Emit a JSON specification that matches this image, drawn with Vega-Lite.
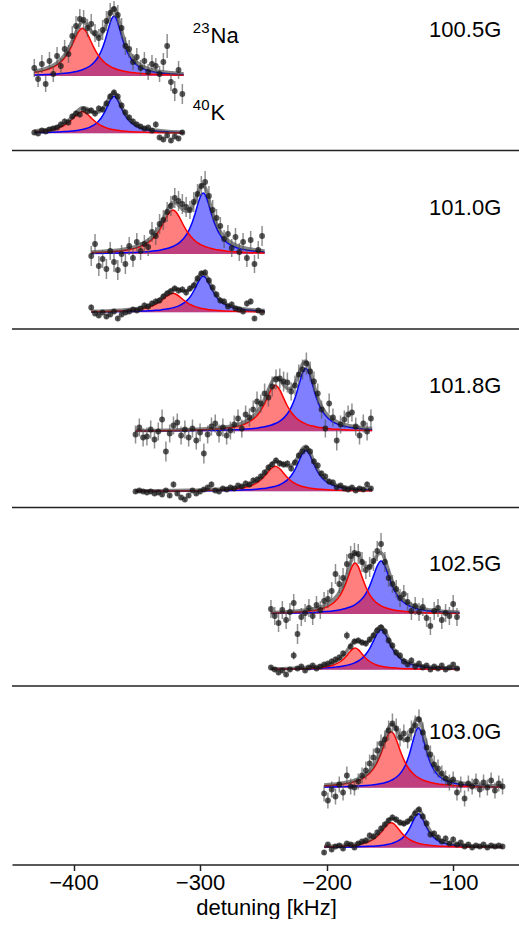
{
  "$schema": "https://vega.github.io/schema/vega-lite/v6.json",
  "width": 508,
  "height": 864.5,
  "padding": {"left": 11, "top": 0, "right": 0, "bottom": 0},
  "config": {
    "view": {"stroke": null},
    "font": "Liberation Sans",
    "axisX": {
      "grid": false, "labelFontSize": 22, "titleFontSize": 22, "titleFontWeight": "normal",
      "labelColor": "#000", "titleColor": "#000", "domainColor": "#222", "domainWidth": 1.5,
      "tickColor": "#222", "tickWidth": 1.5, "tickSize": 6, "labelPadding": 2, "titlePadding": 4,
      "labelFlush": false, "labelFont": "Liberation Sans", "titleFont": "Liberation Sans"
    }
  },
  "datasets": {
    "seps": [{"y": 178.5}, {"y": 357}, {"y": 535.5}, {"y": 714}],
    "fields": [
      {"x": -62, "y": 827.5, "t": "100.5G"},
      {"x": -62, "y": 649.5, "t": "101.0G"},
      {"x": -62, "y": 471.5, "t": "101.8G"},
      {"x": -62, "y": 293.2, "t": "102.5G"},
      {"x": -62, "y": 125.2, "t": "103.0G"}
    ],
    "species": [
      {"x": -292.1, "y": 821.5, "t": "Na", "ys": 831.5, "m": "23"},
      {"x": -292.1, "y": 744.5, "t": "K", "ys": 754.5, "m": "40"}
    ],
    "fit": [
      {"s":"1N","x":-431,"base":788.5,"r":792.2,"b":789.6,"t":793.3},
      {"s":"1N","x":-421,"base":788.5,"r":794.9,"b":790.0,"t":796.4},
      {"s":"1N","x":-413,"base":788.5,"r":799.6,"b":790.6,"t":801.6},
      {"s":"1N","x":-407,"base":788.5,"r":806.7,"b":791.2,"t":809.4},
      {"s":"1N","x":-403,"base":788.5,"r":814.6,"b":791.8,"t":818.0},
      {"s":"1N","x":-399,"base":788.5,"r":825.3,"b":792.7,"t":829.4},
      {"s":"1N","x":-396,"base":788.5,"r":832.9,"b":793.6,"t":838.0},
      {"s":"1N","x":-393,"base":788.5,"r":836.2,"b":794.7,"t":842.4},
      {"s":"1N","x":-390,"base":788.5,"r":832.9,"b":796.3,"t":840.7},
      {"s":"1N","x":-387,"base":788.5,"r":825.3,"b":798.5,"t":835.3},
      {"s":"1N","x":-384,"base":788.5,"r":817.1,"b":801.7,"t":830.3},
      {"s":"1N","x":-381,"base":788.5,"r":810.3,"b":806.5,"t":828.2},
      {"s":"1N","x":-378,"base":788.5,"r":805.2,"b":813.7,"t":830.3},
      {"s":"1N","x":-375,"base":788.5,"r":801.5,"b":824.3,"t":837.2},
      {"s":"1N","x":-372,"base":788.5,"r":798.8,"b":837.6,"t":847.9},
      {"s":"1N","x":-370,"base":788.5,"r":797.4,"b":845.4,"t":854.2},
      {"s":"1N","x":-368,"base":788.5,"r":796.2,"b":848.5,"t":856.2},
      {"s":"1N","x":-366,"base":788.5,"r":795.3,"b":845.4,"t":852.1},
      {"s":"1N","x":-364,"base":788.5,"r":794.5,"b":837.6,"t":843.6},
      {"s":"1N","x":-361,"base":788.5,"r":793.5,"b":824.3,"t":829.3},
      {"s":"1N","x":-358,"base":788.5,"r":792.8,"b":813.7,"t":818.0},
      {"s":"1N","x":-354,"base":788.5,"r":792.0,"b":804.7,"t":808.2},
      {"s":"1N","x":-349,"base":788.5,"r":791.3,"b":798.5,"t":801.3},
      {"s":"1N","x":-343,"base":788.5,"r":790.7,"b":794.7,"t":796.9},
      {"s":"1N","x":-335,"base":788.5,"r":790.2,"b":792.2,"t":793.9},
      {"s":"1N","x":-325,"base":788.5,"r":789.7,"b":790.8,"t":792.0},
      {"s":"1N","x":-313,"base":788.5,"r":789.4,"b":789.9,"t":790.8},
      {"s":"1K","x":-431,"base":731.2,"r":732.9,"b":731.9,"t":733.5},
      {"s":"1K","x":-421,"base":731.2,"r":734.1,"b":732.1,"t":735.0},
      {"s":"1K","x":-413,"base":731.2,"r":736.2,"b":732.5,"t":737.5},
      {"s":"1K","x":-407,"base":731.2,"r":739.5,"b":732.9,"t":741.2},
      {"s":"1K","x":-403,"base":731.2,"r":743.1,"b":733.3,"t":745.1},
      {"s":"1K","x":-399,"base":731.2,"r":747.9,"b":733.8,"t":750.5},
      {"s":"1K","x":-396,"base":731.2,"r":751.4,"b":734.3,"t":754.5},
      {"s":"1K","x":-393,"base":731.2,"r":752.9,"b":735.0,"t":756.7},
      {"s":"1K","x":-390,"base":731.2,"r":751.4,"b":736.0,"t":756.2},
      {"s":"1K","x":-387,"base":731.2,"r":747.9,"b":737.4,"t":754.1},
      {"s":"1K","x":-384,"base":731.2,"r":744.2,"b":739.3,"t":752.3},
      {"s":"1K","x":-381,"base":731.2,"r":741.1,"b":742.3,"t":752.2},
      {"s":"1K","x":-378,"base":731.2,"r":738.8,"b":746.7,"t":754.3},
      {"s":"1K","x":-375,"base":731.2,"r":737.1,"b":753.3,"t":759.2},
      {"s":"1K","x":-372,"base":731.2,"r":735.9,"b":761.5,"t":766.2},
      {"s":"1K","x":-370,"base":731.2,"r":735.2,"b":766.3,"t":770.3},
      {"s":"1K","x":-368,"base":731.2,"r":734.7,"b":768.2,"t":771.7},
      {"s":"1K","x":-366,"base":731.2,"r":734.3,"b":766.3,"t":769.4},
      {"s":"1K","x":-364,"base":731.2,"r":733.9,"b":761.5,"t":764.2},
      {"s":"1K","x":-361,"base":731.2,"r":733.5,"b":753.3,"t":755.5},
      {"s":"1K","x":-358,"base":731.2,"r":733.2,"b":746.7,"t":748.7},
      {"s":"1K","x":-354,"base":731.2,"r":732.8,"b":741.2,"t":742.8},
      {"s":"1K","x":-349,"base":731.2,"r":732.5,"b":737.4,"t":738.6},
      {"s":"1K","x":-343,"base":731.2,"r":732.2,"b":735.0,"t":736.0},
      {"s":"1K","x":-335,"base":731.2,"r":732.0,"b":733.5,"t":734.3},
      {"s":"1K","x":-325,"base":731.2,"r":731.8,"b":732.6,"t":733.1},
      {"s":"1K","x":-313,"base":731.2,"r":731.6,"b":732.1,"t":732.5},
      {"s":"2N","x":-386,"base":610.5,"r":611.9,"b":611.1,"t":612.5},
      {"s":"2N","x":-374,"base":610.5,"r":612.5,"b":611.3,"t":613.4},
      {"s":"2N","x":-364,"base":610.5,"r":613.5,"b":611.6,"t":614.6},
      {"s":"2N","x":-356,"base":610.5,"r":614.9,"b":611.9,"t":616.3},
      {"s":"2N","x":-349,"base":610.5,"r":617.1,"b":612.3,"t":618.9},
      {"s":"2N","x":-340,"base":610.5,"r":622.8,"b":613.1,"t":625.4},
      {"s":"2N","x":-335,"base":610.5,"r":629.0,"b":613.8,"t":632.3},
      {"s":"2N","x":-331,"base":610.5,"r":636.7,"b":614.6,"t":640.8},
      {"s":"2N","x":-327,"base":610.5,"r":646.3,"b":615.7,"t":651.5},
      {"s":"2N","x":-324,"base":610.5,"r":652.5,"b":616.8,"t":658.8},
      {"s":"2N","x":-321.5,"base":610.5,"r":654.5,"b":618.0,"t":662.0},
      {"s":"2N","x":-319,"base":610.5,"r":652.5,"b":619.6,"t":661.6},
      {"s":"2N","x":-316,"base":610.5,"r":646.3,"b":622.2,"t":658.0},
      {"s":"2N","x":-313,"base":610.5,"r":639.0,"b":625.9,"t":654.3},
      {"s":"2N","x":-310,"base":610.5,"r":632.5,"b":631.3,"t":653.3},
      {"s":"2N","x":-307,"base":610.5,"r":627.5,"b":639.4,"t":656.3},
      {"s":"2N","x":-304,"base":610.5,"r":623.8,"b":650.6,"t":663.9},
      {"s":"2N","x":-301,"base":610.5,"r":621.0,"b":663.5,"t":674.0},
      {"s":"2N","x":-299,"base":610.5,"r":619.6,"b":669.9,"t":679.0},
      {"s":"2N","x":-297.5,"base":610.5,"r":618.7,"b":671.5,"t":679.7},
      {"s":"2N","x":-296,"base":610.5,"r":617.9,"b":669.9,"t":677.3},
      {"s":"2N","x":-294,"base":610.5,"r":617.1,"b":663.5,"t":670.0},
      {"s":"2N","x":-291,"base":610.5,"r":616.0,"b":650.6,"t":656.1},
      {"s":"2N","x":-288,"base":610.5,"r":615.1,"b":639.4,"t":644.0},
      {"s":"2N","x":-285,"base":610.5,"r":614.5,"b":631.3,"t":635.3},
      {"s":"2N","x":-281,"base":610.5,"r":613.8,"b":624.5,"t":627.8},
      {"s":"2N","x":-276,"base":610.5,"r":613.1,"b":619.6,"t":622.2},
      {"s":"2N","x":-270,"base":610.5,"r":612.6,"b":616.4,"t":618.5},
      {"s":"2N","x":-262,"base":610.5,"r":612.1,"b":614.2,"t":615.8},
      {"s":"2N","x":-249,"base":610.5,"r":611.6,"b":612.5,"t":613.6},
      {"s":"2K","x":-386,"base":552.2,"r":552.8,"b":552.6,"t":553.2},
      {"s":"2K","x":-374,"base":552.2,"r":553.1,"b":552.7,"t":553.6},
      {"s":"2K","x":-364,"base":552.2,"r":553.5,"b":552.9,"t":554.2},
      {"s":"2K","x":-356,"base":552.2,"r":554.1,"b":553.0,"t":554.9},
      {"s":"2K","x":-349,"base":552.2,"r":555.0,"b":553.3,"t":556.1},
      {"s":"2K","x":-340,"base":552.2,"r":557.5,"b":553.7,"t":559.0},
      {"s":"2K","x":-335,"base":552.2,"r":560.2,"b":554.2,"t":562.2},
      {"s":"2K","x":-331,"base":552.2,"r":563.5,"b":554.6,"t":565.9},
      {"s":"2K","x":-327,"base":552.2,"r":567.7,"b":555.3,"t":570.7},
      {"s":"2K","x":-324,"base":552.2,"r":570.3,"b":555.9,"t":574.1},
      {"s":"2K","x":-321.5,"base":552.2,"r":571.2,"b":556.6,"t":575.6},
      {"s":"2K","x":-319,"base":552.2,"r":570.3,"b":557.6,"t":575.7},
      {"s":"2K","x":-316,"base":552.2,"r":567.7,"b":559.1,"t":574.6},
      {"s":"2K","x":-313,"base":552.2,"r":564.5,"b":561.3,"t":573.6},
      {"s":"2K","x":-310,"base":552.2,"r":561.7,"b":564.5,"t":574.0},
      {"s":"2K","x":-307,"base":552.2,"r":559.5,"b":569.2,"t":576.6},
      {"s":"2K","x":-304,"base":552.2,"r":557.9,"b":575.9,"t":581.6},
      {"s":"2K","x":-301,"base":552.2,"r":556.8,"b":583.5,"t":588.0},
      {"s":"2K","x":-299,"base":552.2,"r":556.1,"b":587.2,"t":591.2},
      {"s":"2K","x":-297.5,"base":552.2,"r":555.8,"b":588.2,"t":591.8},
      {"s":"2K","x":-296,"base":552.2,"r":555.4,"b":587.2,"t":590.4},
      {"s":"2K","x":-294,"base":552.2,"r":555.0,"b":583.5,"t":586.3},
      {"s":"2K","x":-291,"base":552.2,"r":554.6,"b":575.9,"t":578.2},
      {"s":"2K","x":-288,"base":552.2,"r":554.2,"b":569.2,"t":571.2},
      {"s":"2K","x":-285,"base":552.2,"r":553.9,"b":564.5,"t":566.2},
      {"s":"2K","x":-281,"base":552.2,"r":553.6,"b":560.5,"t":561.9},
      {"s":"2K","x":-276,"base":552.2,"r":553.3,"b":557.6,"t":558.7},
      {"s":"2K","x":-270,"base":552.2,"r":553.1,"b":555.7,"t":556.6},
      {"s":"2K","x":-262,"base":552.2,"r":552.9,"b":554.4,"t":555.1},
      {"s":"2K","x":-249,"base":552.2,"r":552.7,"b":553.4,"t":553.9},
      {"s":"3N","x":-351,"base":433.2,"r":433.6,"b":433.5,"t":433.9},
      {"s":"3N","x":-335,"base":433.2,"r":433.8,"b":433.6,"t":434.1},
      {"s":"3N","x":-320,"base":433.2,"r":434.0,"b":433.7,"t":434.5},
      {"s":"3N","x":-308,"base":433.2,"r":434.3,"b":433.8,"t":434.9},
      {"s":"3N","x":-298,"base":433.2,"r":434.7,"b":434.0,"t":435.4},
      {"s":"3N","x":-290,"base":433.2,"r":435.2,"b":434.1,"t":436.1},
      {"s":"3N","x":-283,"base":433.2,"r":435.9,"b":434.3,"t":437.0},
      {"s":"3N","x":-277,"base":433.2,"r":436.7,"b":434.6,"t":438.1},
      {"s":"3N","x":-272,"base":433.2,"r":437.8,"b":434.8,"t":439.4},
      {"s":"3N","x":-267,"base":433.2,"r":439.4,"b":435.1,"t":441.4},
      {"s":"3N","x":-262,"base":433.2,"r":442.1,"b":435.6,"t":444.4},
      {"s":"3N","x":-258,"base":433.2,"r":445.4,"b":436.0,"t":448.2},
      {"s":"3N","x":-254,"base":433.2,"r":450.5,"b":436.6,"t":454.0},
      {"s":"3N","x":-250,"base":433.2,"r":458.5,"b":437.4,"t":462.7},
      {"s":"3N","x":-247,"base":433.2,"r":466.5,"b":438.3,"t":471.5},
      {"s":"3N","x":-244,"base":433.2,"r":474.6,"b":439.3,"t":480.7},
      {"s":"3N","x":-240.5,"base":433.2,"r":479.2,"b":441.0,"t":487.0},
      {"s":"3N","x":-237,"base":433.2,"r":474.6,"b":443.4,"t":484.8},
      {"s":"3N","x":-234,"base":433.2,"r":466.5,"b":446.4,"t":479.6},
      {"s":"3N","x":-231,"base":433.2,"r":458.5,"b":450.7,"t":476.0},
      {"s":"3N","x":-228,"base":433.2,"r":452.2,"b":457.1,"t":476.2},
      {"s":"3N","x":-225,"base":433.2,"r":447.7,"b":466.5,"t":481.0},
      {"s":"3N","x":-222,"base":433.2,"r":444.4,"b":479.1,"t":490.3},
      {"s":"3N","x":-219,"base":433.2,"r":442.1,"b":491.7,"t":500.5},
      {"s":"3N","x":-216.5,"base":433.2,"r":440.6,"b":496.2,"t":503.6},
      {"s":"3N","x":-214,"base":433.2,"r":439.4,"b":491.7,"t":497.9},
      {"s":"3N","x":-211,"base":433.2,"r":438.4,"b":479.1,"t":484.2},
      {"s":"3N","x":-208,"base":433.2,"r":437.6,"b":466.5,"t":470.9},
      {"s":"3N","x":-205,"base":433.2,"r":436.9,"b":457.1,"t":460.8},
      {"s":"3N","x":-201,"base":433.2,"r":436.2,"b":449.1,"t":452.1},
      {"s":"3N","x":-196,"base":433.2,"r":435.6,"b":443.4,"t":445.8},
      {"s":"3N","x":-190,"base":433.2,"r":435.1,"b":439.7,"t":441.6},
      {"s":"3N","x":-182,"base":433.2,"r":434.6,"b":437.2,"t":438.7},
      {"s":"3N","x":-173,"base":433.2,"r":434.3,"b":435.8,"t":436.9},
      {"s":"3N","x":-164,"base":433.2,"r":434.1,"b":435.0,"t":435.9},
      {"s":"3K","x":-351,"base":373.2,"r":373.4,"b":373.4,"t":373.6},
      {"s":"3K","x":-335,"base":373.2,"r":373.5,"b":373.4,"t":373.7},
      {"s":"3K","x":-320,"base":373.2,"r":373.6,"b":373.5,"t":373.9},
      {"s":"3K","x":-308,"base":373.2,"r":373.8,"b":373.6,"t":374.2},
      {"s":"3K","x":-298,"base":373.2,"r":374.0,"b":373.7,"t":374.5},
      {"s":"3K","x":-290,"base":373.2,"r":374.3,"b":373.8,"t":374.9},
      {"s":"3K","x":-283,"base":373.2,"r":374.6,"b":373.9,"t":375.4},
      {"s":"3K","x":-277,"base":373.2,"r":375.1,"b":374.1,"t":376.0},
      {"s":"3K","x":-272,"base":373.2,"r":375.7,"b":374.3,"t":376.8},
      {"s":"3K","x":-267,"base":373.2,"r":376.6,"b":374.5,"t":377.9},
      {"s":"3K","x":-262,"base":373.2,"r":378.0,"b":374.8,"t":379.6},
      {"s":"3K","x":-258,"base":373.2,"r":379.8,"b":375.0,"t":381.7},
      {"s":"3K","x":-254,"base":373.2,"r":382.6,"b":375.4,"t":384.9},
      {"s":"3K","x":-250,"base":373.2,"r":387.0,"b":376.0,"t":389.7},
      {"s":"3K","x":-247,"base":373.2,"r":391.3,"b":376.5,"t":394.6},
      {"s":"3K","x":-244,"base":373.2,"r":395.7,"b":377.2,"t":399.7},
      {"s":"3K","x":-240.5,"base":373.2,"r":398.2,"b":378.3,"t":403.3},
      {"s":"3K","x":-237,"base":373.2,"r":395.7,"b":379.8,"t":402.3},
      {"s":"3K","x":-234,"base":373.2,"r":391.3,"b":381.8,"t":399.9},
      {"s":"3K","x":-231,"base":373.2,"r":387.0,"b":384.6,"t":398.4},
      {"s":"3K","x":-228,"base":373.2,"r":383.5,"b":388.8,"t":399.1},
      {"s":"3K","x":-225,"base":373.2,"r":381.1,"b":394.9,"t":402.7},
      {"s":"3K","x":-222,"base":373.2,"r":379.3,"b":403.1,"t":409.1},
      {"s":"3K","x":-219,"base":373.2,"r":378.0,"b":411.3,"t":416.1},
      {"s":"3K","x":-216.5,"base":373.2,"r":377.2,"b":414.2,"t":418.2},
      {"s":"3K","x":-214,"base":373.2,"r":376.6,"b":411.3,"t":414.7},
      {"s":"3K","x":-211,"base":373.2,"r":376.0,"b":403.1,"t":405.9},
      {"s":"3K","x":-208,"base":373.2,"r":375.6,"b":394.9,"t":397.2},
      {"s":"3K","x":-205,"base":373.2,"r":375.2,"b":388.8,"t":390.8},
      {"s":"3K","x":-201,"base":373.2,"r":374.9,"b":383.5,"t":385.2},
      {"s":"3K","x":-196,"base":373.2,"r":374.5,"b":379.8,"t":381.2},
      {"s":"3K","x":-190,"base":373.2,"r":374.2,"b":377.4,"t":378.5},
      {"s":"3K","x":-182,"base":373.2,"r":374.0,"b":375.8,"t":376.6},
      {"s":"3K","x":-173,"base":373.2,"r":373.8,"b":374.9,"t":375.5},
      {"s":"3K","x":-164,"base":373.2,"r":373.7,"b":374.4,"t":374.8},
      {"s":"4N","x":-244,"base":250.5,"r":251.4,"b":251.1,"t":252.0},
      {"s":"4N","x":-230,"base":250.5,"r":252.0,"b":251.4,"t":252.8},
      {"s":"4N","x":-218,"base":250.5,"r":252.9,"b":251.8,"t":254.2},
      {"s":"4N","x":-208,"base":250.5,"r":254.6,"b":252.3,"t":256.4},
      {"s":"4N","x":-200,"base":250.5,"r":257.5,"b":253.0,"t":260.0},
      {"s":"4N","x":-194,"base":250.5,"r":262.2,"b":253.8,"t":265.5},
      {"s":"4N","x":-189,"base":250.5,"r":269.9,"b":254.8,"t":274.2},
      {"s":"4N","x":-185,"base":250.5,"r":280.6,"b":256.0,"t":286.1},
      {"s":"4N","x":-182,"base":250.5,"r":291.3,"b":257.2,"t":298.0},
      {"s":"4N","x":-180,"base":250.5,"r":297.8,"b":258.2,"t":305.6},
      {"s":"4N","x":-177.5,"base":250.5,"r":301.5,"b":259.9,"t":310.9},
      {"s":"4N","x":-175,"base":250.5,"r":297.8,"b":262.1,"t":309.4},
      {"s":"4N","x":-172,"base":250.5,"r":287.6,"b":265.7,"t":302.8},
      {"s":"4N","x":-169,"base":250.5,"r":277.5,"b":270.9,"t":297.9},
      {"s":"4N","x":-166,"base":250.5,"r":269.9,"b":278.4,"t":297.8},
      {"s":"4N","x":-163,"base":250.5,"r":264.7,"b":288.4,"t":302.6},
      {"s":"4N","x":-160,"base":250.5,"r":261.2,"b":298.7,"t":309.4},
      {"s":"4N","x":-157,"base":250.5,"r":258.7,"b":303.5,"t":311.7},
      {"s":"4N","x":-154,"base":250.5,"r":257.0,"b":298.7,"t":305.2},
      {"s":"4N","x":-151,"base":250.5,"r":255.8,"b":288.4,"t":293.7},
      {"s":"4N","x":-148,"base":250.5,"r":254.8,"b":278.4,"t":282.8},
      {"s":"4N","x":-145,"base":250.5,"r":254.1,"b":270.9,"t":274.6},
      {"s":"4N","x":-141,"base":250.5,"r":253.4,"b":264.3,"t":267.2},
      {"s":"4N","x":-136,"base":250.5,"r":252.8,"b":259.5,"t":261.8},
      {"s":"4N","x":-130,"base":250.5,"r":252.3,"b":256.3,"t":258.1},
      {"s":"4N","x":-122,"base":250.5,"r":251.8,"b":254.1,"t":255.4},
      {"s":"4N","x":-112,"base":250.5,"r":251.4,"b":252.8,"t":253.7},
      {"s":"4N","x":-95,"base":250.5,"r":251.1,"b":251.7,"t":252.3},
      {"s":"4K","x":-244,"base":194.8,"r":195.2,"b":195.3,"t":195.7},
      {"s":"4K","x":-230,"base":194.8,"r":195.4,"b":195.5,"t":196.1},
      {"s":"4K","x":-218,"base":194.8,"r":195.8,"b":195.7,"t":196.8},
      {"s":"4K","x":-208,"base":194.8,"r":196.5,"b":196.1,"t":197.9},
      {"s":"4K","x":-200,"base":194.8,"r":197.8,"b":196.7,"t":199.6},
      {"s":"4K","x":-194,"base":194.8,"r":199.8,"b":197.3,"t":202.2},
      {"s":"4K","x":-189,"base":194.8,"r":203.0,"b":198.0,"t":206.3},
      {"s":"4K","x":-185,"base":194.8,"r":207.6,"b":198.9,"t":211.7},
      {"s":"4K","x":-182,"base":194.8,"r":212.2,"b":199.9,"t":217.2},
      {"s":"4K","x":-180,"base":194.8,"r":214.9,"b":200.6,"t":220.8},
      {"s":"4K","x":-177.5,"base":194.8,"r":216.5,"b":201.9,"t":223.6},
      {"s":"4K","x":-175,"base":194.8,"r":214.9,"b":203.5,"t":223.7},
      {"s":"4K","x":-172,"base":194.8,"r":210.6,"b":206.3,"t":222.1},
      {"s":"4K","x":-169,"base":194.8,"r":206.3,"b":210.2,"t":221.7},
      {"s":"4K","x":-166,"base":194.8,"r":203.0,"b":215.9,"t":224.1},
      {"s":"4K","x":-163,"base":194.8,"r":200.8,"b":223.4,"t":229.4},
      {"s":"4K","x":-160,"base":194.8,"r":199.3,"b":231.2,"t":235.7},
      {"s":"4K","x":-157,"base":194.8,"r":198.3,"b":234.8,"t":238.3},
      {"s":"4K","x":-154,"base":194.8,"r":197.6,"b":231.2,"t":233.9},
      {"s":"4K","x":-151,"base":194.8,"r":197.0,"b":223.4,"t":225.6},
      {"s":"4K","x":-148,"base":194.8,"r":196.7,"b":215.9,"t":217.7},
      {"s":"4K","x":-145,"base":194.8,"r":196.4,"b":210.2,"t":211.8},
      {"s":"4K","x":-141,"base":194.8,"r":196.0,"b":205.2,"t":206.5},
      {"s":"4K","x":-136,"base":194.8,"r":195.8,"b":201.6,"t":202.6},
      {"s":"4K","x":-130,"base":194.8,"r":195.6,"b":199.2,"t":200.0},
      {"s":"4K","x":-122,"base":194.8,"r":195.4,"b":197.5,"t":198.1},
      {"s":"4K","x":-112,"base":194.8,"r":195.2,"b":196.5,"t":196.9},
      {"s":"4K","x":-95,"base":194.8,"r":195.1,"b":195.7,"t":196.0},
      {"s":"5N","x":-202,"base":76.8,"r":78.7,"b":77.5,"t":79.4},
      {"s":"5N","x":-190,"base":76.8,"r":79.9,"b":77.8,"t":80.9},
      {"s":"5N","x":-180,"base":76.8,"r":82.1,"b":78.2,"t":83.4},
      {"s":"5N","x":-172,"base":76.8,"r":85.7,"b":78.7,"t":87.6},
      {"s":"5N","x":-166,"base":76.8,"r":91.2,"b":79.3,"t":93.7},
      {"s":"5N","x":-161,"base":76.8,"r":99.8,"b":80.0,"t":103.0},
      {"s":"5N","x":-157,"base":76.8,"r":111.0,"b":80.9,"t":115.1},
      {"s":"5N","x":-154,"base":76.8,"r":121.6,"b":81.8,"t":126.6},
      {"s":"5N","x":-151,"base":76.8,"r":130.6,"b":83.0,"t":136.9},
      {"s":"5N","x":-149,"base":76.8,"r":132.8,"b":84.1,"t":140.1},
      {"s":"5N","x":-147,"base":76.8,"r":130.6,"b":85.5,"t":139.3},
      {"s":"5N","x":-144,"base":76.8,"r":121.6,"b":88.2,"t":133.0},
      {"s":"5N","x":-141,"base":76.8,"r":111.0,"b":92.4,"t":126.5},
      {"s":"5N","x":-138,"base":76.8,"r":102.1,"b":98.8,"t":124.2},
      {"s":"5N","x":-135,"base":76.8,"r":95.7,"b":108.7,"t":127.7},
      {"s":"5N","x":-132,"base":76.8,"r":91.2,"b":122.4,"t":136.8},
      {"s":"5N","x":-129.5,"base":76.8,"r":88.5,"b":133.3,"t":144.9},
      {"s":"5N","x":-127.5,"base":76.8,"r":86.8,"b":136.8,"t":146.8},
      {"s":"5N","x":-125.5,"base":76.8,"r":85.4,"b":133.3,"t":141.8},
      {"s":"5N","x":-123,"base":76.8,"r":84.0,"b":122.4,"t":129.6},
      {"s":"5N","x":-120,"base":76.8,"r":82.8,"b":108.7,"t":114.7},
      {"s":"5N","x":-117,"base":76.8,"r":81.8,"b":98.8,"t":103.8},
      {"s":"5N","x":-113,"base":76.8,"r":80.8,"b":90.8,"t":94.8},
      {"s":"5N","x":-108,"base":76.8,"r":79.9,"b":85.5,"t":88.6},
      {"s":"5N","x":-102,"base":76.8,"r":79.2,"b":82.2,"t":84.6},
      {"s":"5N","x":-94,"base":76.8,"r":78.6,"b":80.0,"t":81.8},
      {"s":"5N","x":-84,"base":76.8,"r":78.1,"b":78.8,"t":80.1},
      {"s":"5N","x":-72,"base":76.8,"r":77.7,"b":78.0,"t":78.9},
      {"s":"5N","x":-61,"base":76.8,"r":77.5,"b":77.7,"t":78.4},
      {"s":"5K","x":-202,"base":16.8,"r":17.7,"b":17.2,"t":18.1},
      {"s":"5K","x":-190,"base":16.8,"r":18.2,"b":17.3,"t":18.8},
      {"s":"5K","x":-180,"base":16.8,"r":19.2,"b":17.6,"t":19.9},
      {"s":"5K","x":-172,"base":16.8,"r":20.8,"b":17.9,"t":21.8},
      {"s":"5K","x":-166,"base":16.8,"r":23.2,"b":18.2,"t":24.6},
      {"s":"5K","x":-161,"base":16.8,"r":27.1,"b":18.6,"t":28.9},
      {"s":"5K","x":-157,"base":16.8,"r":32.1,"b":19.1,"t":34.4},
      {"s":"5K","x":-154,"base":16.8,"r":36.8,"b":19.6,"t":39.6},
      {"s":"5K","x":-151,"base":16.8,"r":40.8,"b":20.3,"t":44.4},
      {"s":"5K","x":-149,"base":16.8,"r":41.8,"b":20.9,"t":45.9},
      {"s":"5K","x":-147,"base":16.8,"r":40.8,"b":21.7,"t":45.7},
      {"s":"5K","x":-144,"base":16.8,"r":36.8,"b":23.3,"t":43.3},
      {"s":"5K","x":-141,"base":16.8,"r":32.1,"b":25.6,"t":40.9},
      {"s":"5K","x":-138,"base":16.8,"r":28.1,"b":29.3,"t":40.6},
      {"s":"5K","x":-135,"base":16.8,"r":25.3,"b":34.9,"t":43.3},
      {"s":"5K","x":-132,"base":16.8,"r":23.2,"b":42.6,"t":49.1},
      {"s":"5K","x":-129.5,"base":16.8,"r":22.0,"b":48.8,"t":54.0},
      {"s":"5K","x":-127.5,"base":16.8,"r":21.3,"b":50.8,"t":55.3},
      {"s":"5K","x":-125.5,"base":16.8,"r":20.6,"b":48.8,"t":52.6},
      {"s":"5K","x":-123,"base":16.8,"r":20.0,"b":42.6,"t":45.9},
      {"s":"5K","x":-120,"base":16.8,"r":19.5,"b":34.9,"t":37.6},
      {"s":"5K","x":-117,"base":16.8,"r":19.0,"b":29.3,"t":31.5},
      {"s":"5K","x":-113,"base":16.8,"r":18.6,"b":24.7,"t":26.5},
      {"s":"5K","x":-108,"base":16.8,"r":18.2,"b":21.7,"t":23.1},
      {"s":"5K","x":-102,"base":16.8,"r":17.9,"b":19.9,"t":20.9},
      {"s":"5K","x":-94,"base":16.8,"r":17.6,"b":18.6,"t":19.4},
      {"s":"5K","x":-84,"base":16.8,"r":17.4,"b":17.9,"t":18.5},
      {"s":"5K","x":-72,"base":16.8,"r":17.2,"b":17.5,"t":17.9},
      {"s":"5K","x":-61,"base":16.8,"r":17.1,"b":17.3,"t":17.6}
    ],
    "pts": [
      {"s":"1N","x":-431,"y":796.5,"e":9},{"s":"1N","x":-428,"y":785.5,"e":8},{"s":"1N","x":-425,"y":800.5,"e":9},{"s":"1N","x":-422,"y":780.5,"e":8},
      {"s":"1N","x":-419,"y":803.5,"e":9},{"s":"1N","x":-416,"y":790.5,"e":8},{"s":"1N","x":-413,"y":808.5,"e":9},{"s":"1N","x":-410,"y":798.5,"e":8},
      {"s":"1N","x":-407,"y":815.5,"e":9},{"s":"1N","x":-404,"y":810.5,"e":9},{"s":"1N","x":-401,"y":828.5,"e":10},{"s":"1N","x":-398,"y":838.5,"e":10},
      {"s":"1N","x":-395,"y":845.5,"e":10},{"s":"1N","x":-392,"y":844.5,"e":10},{"s":"1N","x":-389,"y":836.5,"e":9},{"s":"1N","x":-386,"y":840.5,"e":10},
      {"s":"1N","x":-383,"y":831.5,"e":9},{"s":"1N","x":-380,"y":826.5,"e":9},{"s":"1N","x":-377,"y":834.5,"e":10},{"s":"1N","x":-374,"y":843.5,"e":10},
      {"s":"1N","x":-371,"y":851.5,"e":10},{"s":"1N","x":-368,"y":855.5,"e":8},{"s":"1N","x":-365,"y":849.5,"e":10},{"s":"1N","x":-362,"y":836.5,"e":10},
      {"s":"1N","x":-359,"y":818.5,"e":9},{"s":"1N","x":-356,"y":815.5,"e":9},{"s":"1N","x":-353,"y":802.5,"e":8},{"s":"1N","x":-350,"y":807.5,"e":9},
      {"s":"1N","x":-347,"y":796.5,"e":8},{"s":"1N","x":-344,"y":803.5,"e":9},{"s":"1N","x":-341,"y":792.5,"e":8},{"s":"1N","x":-338,"y":800.5,"e":9},
      {"s":"1N","x":-335,"y":798.5,"e":8},{"s":"1N","x":-332,"y":790.5,"e":8},{"s":"1N","x":-329,"y":802.5,"e":9},{"s":"1N","x":-326,"y":818.5,"e":12},
      {"s":"1N","x":-323,"y":782.5,"e":9},{"s":"1N","x":-320,"y":773.5,"e":10},{"s":"1N","x":-317,"y":794.5,"e":9},{"s":"1N","x":-314,"y":770.5,"e":10},

      {"s":"1K","x":-431,"y":732,"e":2},{"s":"1K","x":-428,"y":731,"e":2},{"s":"1K","x":-425,"y":734,"e":2},{"s":"1K","x":-422,"y":733,"e":2},
      {"s":"1K","x":-419,"y":735,"e":2},{"s":"1K","x":-416,"y":736,"e":2},{"s":"1K","x":-413,"y":737,"e":2},{"s":"1K","x":-410,"y":740,"e":3},
      {"s":"1K","x":-407,"y":743,"e":3},{"s":"1K","x":-404,"y":742,"e":3},{"s":"1K","x":-401,"y":748,"e":3},{"s":"1K","x":-398,"y":751,"e":3},
      {"s":"1K","x":-395,"y":750,"e":3},{"s":"1K","x":-392,"y":755,"e":3},{"s":"1K","x":-389,"y":753,"e":3},{"s":"1K","x":-386,"y":754,"e":3},
      {"s":"1K","x":-383,"y":751,"e":3},{"s":"1K","x":-380,"y":756,"e":3},{"s":"1K","x":-377,"y":755,"e":3},{"s":"1K","x":-374,"y":761,"e":3},
      {"s":"1K","x":-371,"y":768,"e":3},{"s":"1K","x":-368,"y":772,"e":3},{"s":"1K","x":-365,"y":768,"e":3},{"s":"1K","x":-362,"y":759,"e":3},
      {"s":"1K","x":-359,"y":752,"e":3},{"s":"1K","x":-356,"y":747,"e":3},{"s":"1K","x":-353,"y":743,"e":3},{"s":"1K","x":-350,"y":740,"e":3},
      {"s":"1K","x":-347,"y":738,"e":2},{"s":"1K","x":-344,"y":736,"e":2},{"s":"1K","x":-341,"y":737,"e":2},{"s":"1K","x":-338,"y":734,"e":2},
      {"s":"1K","x":-335,"y":740,"e":3},{"s":"1K","x":-332,"y":727,"e":2},{"s":"1K","x":-329,"y":725,"e":2},{"s":"1K","x":-326,"y":729,"e":2},
      {"s":"1K","x":-323,"y":724,"e":2},{"s":"1K","x":-320,"y":728,"e":2},{"s":"1K","x":-317,"y":726,"e":2},{"s":"1K","x":-314,"y":732,"e":2},

      {"s":"2N","x":-386,"y":608.5,"e":10},{"s":"2N","x":-383,"y":620.5,"e":10},{"s":"2N","x":-380,"y":598.5,"e":10},{"s":"2N","x":-377,"y":605.5,"e":9},
      {"s":"2N","x":-374,"y":595.5,"e":10},{"s":"2N","x":-371,"y":613.5,"e":9},{"s":"2N","x":-368,"y":602.5,"e":10},{"s":"2N","x":-365,"y":594.5,"e":10},
      {"s":"2N","x":-362,"y":610.5,"e":9},{"s":"2N","x":-359,"y":600.5,"e":10},{"s":"2N","x":-356,"y":618.5,"e":9},{"s":"2N","x":-353,"y":606.5,"e":9},
      {"s":"2N","x":-350,"y":622.5,"e":9},{"s":"2N","x":-347,"y":613.5,"e":9},{"s":"2N","x":-344,"y":620.5,"e":9},{"s":"2N","x":-341,"y":617.5,"e":9},
      {"s":"2N","x":-338,"y":632.5,"e":10},{"s":"2N","x":-335,"y":628.5,"e":9},{"s":"2N","x":-332,"y":640.5,"e":10},{"s":"2N","x":-329,"y":644.5,"e":10},
      {"s":"2N","x":-326,"y":652.5,"e":10},{"s":"2N","x":-323,"y":658.5,"e":10},{"s":"2N","x":-320,"y":666.5,"e":10},{"s":"2N","x":-317,"y":663.5,"e":10},
      {"s":"2N","x":-314,"y":660.5,"e":10},{"s":"2N","x":-311,"y":657.5,"e":10},{"s":"2N","x":-308,"y":654.5,"e":9},{"s":"2N","x":-305,"y":662.5,"e":10},
      {"s":"2N","x":-302,"y":670.5,"e":10},{"s":"2N","x":-299,"y":678.5,"e":10},{"s":"2N","x":-296,"y":682.5,"e":11},{"s":"2N","x":-293,"y":668.5,"e":10},
      {"s":"2N","x":-290,"y":654.5,"e":10},{"s":"2N","x":-287,"y":646.5,"e":9},{"s":"2N","x":-284,"y":638.5,"e":9},{"s":"2N","x":-281,"y":625.5,"e":9},
      {"s":"2N","x":-278,"y":630.5,"e":9},{"s":"2N","x":-275,"y":616.5,"e":9},{"s":"2N","x":-272,"y":627.5,"e":9},{"s":"2N","x":-269,"y":612.5,"e":9},
      {"s":"2N","x":-266,"y":622.5,"e":9},{"s":"2N","x":-263,"y":606.5,"e":9},{"s":"2N","x":-260,"y":624.5,"e":9},{"s":"2N","x":-257,"y":600.5,"e":9},
      {"s":"2N","x":-254,"y":614.5,"e":9},{"s":"2N","x":-251,"y":628.5,"e":10},

      {"s":"2K","x":-386,"y":557,"e":3},{"s":"2K","x":-383,"y":551,"e":2},{"s":"2K","x":-380,"y":549,"e":2},{"s":"2K","x":-377,"y":552,"e":2},
      {"s":"2K","x":-374,"y":548,"e":2},{"s":"2K","x":-371,"y":550,"e":2},{"s":"2K","x":-368,"y":553,"e":2},{"s":"2K","x":-365,"y":546,"e":2},
      {"s":"2K","x":-362,"y":550,"e":2},{"s":"2K","x":-359,"y":552,"e":2},{"s":"2K","x":-356,"y":553,"e":2},{"s":"2K","x":-353,"y":555,"e":2},
      {"s":"2K","x":-350,"y":554,"e":2},{"s":"2K","x":-347,"y":556,"e":2},{"s":"2K","x":-344,"y":559,"e":3},{"s":"2K","x":-341,"y":558,"e":3},
      {"s":"2K","x":-338,"y":561,"e":3},{"s":"2K","x":-335,"y":563,"e":3},{"s":"2K","x":-332,"y":564,"e":3},{"s":"2K","x":-329,"y":568,"e":3},
      {"s":"2K","x":-326,"y":571,"e":3},{"s":"2K","x":-323,"y":573,"e":3},{"s":"2K","x":-320,"y":576,"e":3},{"s":"2K","x":-317,"y":574,"e":3},
      {"s":"2K","x":-314,"y":575,"e":3},{"s":"2K","x":-311,"y":572,"e":3},{"s":"2K","x":-308,"y":576,"e":3},{"s":"2K","x":-305,"y":579,"e":3},
      {"s":"2K","x":-302,"y":586,"e":3},{"s":"2K","x":-299,"y":591,"e":3},{"s":"2K","x":-296,"y":592,"e":3},{"s":"2K","x":-293,"y":584,"e":3},
      {"s":"2K","x":-290,"y":577,"e":3},{"s":"2K","x":-287,"y":570,"e":3},{"s":"2K","x":-284,"y":564,"e":3},{"s":"2K","x":-281,"y":563,"e":3},
      {"s":"2K","x":-278,"y":558,"e":2},{"s":"2K","x":-275,"y":560,"e":3},{"s":"2K","x":-272,"y":556,"e":2},{"s":"2K","x":-269,"y":555,"e":2},
      {"s":"2K","x":-266,"y":553,"e":2},{"s":"2K","x":-263,"y":561,"e":3},{"s":"2K","x":-260,"y":563,"e":3},{"s":"2K","x":-257,"y":546,"e":2},
      {"s":"2K","x":-254,"y":554,"e":2},{"s":"2K","x":-251,"y":552,"e":2},

      {"s":"3N","x":-351,"y":430,"e":9},{"s":"3N","x":-348,"y":437,"e":9},{"s":"3N","x":-345,"y":427,"e":9},{"s":"3N","x":-342,"y":428,"e":9},
      {"s":"3N","x":-339,"y":435,"e":9},{"s":"3N","x":-336,"y":425,"e":9},{"s":"3N","x":-333,"y":433,"e":9},{"s":"3N","x":-330,"y":445,"e":10},
      {"s":"3N","x":-327,"y":413,"e":10},{"s":"3N","x":-324,"y":431,"e":9},{"s":"3N","x":-321,"y":439,"e":9},{"s":"3N","x":-318,"y":442,"e":9},
      {"s":"3N","x":-315,"y":429,"e":9},{"s":"3N","x":-312,"y":435,"e":9},{"s":"3N","x":-309,"y":427,"e":9},{"s":"3N","x":-306,"y":436,"e":9},
      {"s":"3N","x":-303,"y":424,"e":9},{"s":"3N","x":-300,"y":432,"e":9},{"s":"3N","x":-297,"y":411,"e":10},{"s":"3N","x":-294,"y":430,"e":9},
      {"s":"3N","x":-291,"y":438,"e":9},{"s":"3N","x":-288,"y":441,"e":9},{"s":"3N","x":-285,"y":431,"e":9},{"s":"3N","x":-282,"y":437,"e":9},
      {"s":"3N","x":-279,"y":429,"e":9},{"s":"3N","x":-276,"y":434,"e":9},{"s":"3N","x":-273,"y":440,"e":9},{"s":"3N","x":-270,"y":446,"e":9},
      {"s":"3N","x":-267,"y":436,"e":9},{"s":"3N","x":-264,"y":450,"e":9},{"s":"3N","x":-261,"y":447,"e":9},{"s":"3N","x":-258,"y":455,"e":9},
      {"s":"3N","x":-255,"y":463,"e":10},{"s":"3N","x":-252,"y":461,"e":9},{"s":"3N","x":-249,"y":471,"e":10},{"s":"3N","x":-246,"y":467,"e":9},
      {"s":"3N","x":-243,"y":478,"e":10},{"s":"3N","x":-240,"y":485,"e":10},{"s":"3N","x":-237,"y":486,"e":10},{"s":"3N","x":-234,"y":483,"e":10},
      {"s":"3N","x":-231,"y":482,"e":10},{"s":"3N","x":-228,"y":473,"e":9},{"s":"3N","x":-225,"y":479,"e":10},{"s":"3N","x":-222,"y":490,"e":10},
      {"s":"3N","x":-219,"y":495,"e":10},{"s":"3N","x":-216,"y":501,"e":11},{"s":"3N","x":-213,"y":493,"e":10},{"s":"3N","x":-210,"y":483,"e":10},
      {"s":"3N","x":-207,"y":471,"e":10},{"s":"3N","x":-204,"y":455,"e":9},{"s":"3N","x":-201,"y":436,"e":9},{"s":"3N","x":-198,"y":461,"e":10},
      {"s":"3N","x":-195,"y":447,"e":9},{"s":"3N","x":-192,"y":424,"e":10},{"s":"3N","x":-189,"y":440,"e":9},{"s":"3N","x":-186,"y":445,"e":9},
      {"s":"3N","x":-183,"y":450,"e":9},{"s":"3N","x":-180,"y":452,"e":9},{"s":"3N","x":-177,"y":438,"e":9},{"s":"3N","x":-174,"y":429,"e":9},
      {"s":"3N","x":-171,"y":441,"e":9},{"s":"3N","x":-168,"y":433,"e":9},{"s":"3N","x":-165,"y":446,"e":9},

      {"s":"3K","x":-351,"y":373,"e":2},{"s":"3K","x":-348,"y":374,"e":2},{"s":"3K","x":-345,"y":373,"e":2},{"s":"3K","x":-342,"y":372,"e":2},
      {"s":"3K","x":-339,"y":373,"e":2},{"s":"3K","x":-336,"y":371,"e":2},{"s":"3K","x":-333,"y":372,"e":2},{"s":"3K","x":-330,"y":370,"e":2},
      {"s":"3K","x":-327,"y":374,"e":2},{"s":"3K","x":-324,"y":369,"e":2},{"s":"3K","x":-321,"y":380,"e":3},{"s":"3K","x":-318,"y":371,"e":2},
      {"s":"3K","x":-315,"y":367,"e":2},{"s":"3K","x":-312,"y":365,"e":2},{"s":"3K","x":-309,"y":369,"e":2},{"s":"3K","x":-306,"y":374,"e":2},
      {"s":"3K","x":-303,"y":371,"e":2},{"s":"3K","x":-300,"y":373,"e":2},{"s":"3K","x":-297,"y":375,"e":2},{"s":"3K","x":-294,"y":377,"e":2},
      {"s":"3K","x":-291,"y":380,"e":3},{"s":"3K","x":-288,"y":374,"e":2},{"s":"3K","x":-285,"y":373,"e":2},{"s":"3K","x":-282,"y":376,"e":2},
      {"s":"3K","x":-279,"y":375,"e":2},{"s":"3K","x":-276,"y":377,"e":2},{"s":"3K","x":-273,"y":376,"e":2},{"s":"3K","x":-270,"y":379,"e":2},
      {"s":"3K","x":-267,"y":378,"e":2},{"s":"3K","x":-264,"y":381,"e":3},{"s":"3K","x":-261,"y":380,"e":3},{"s":"3K","x":-258,"y":384,"e":3},
      {"s":"3K","x":-255,"y":385,"e":3},{"s":"3K","x":-252,"y":388,"e":3},{"s":"3K","x":-249,"y":392,"e":3},{"s":"3K","x":-246,"y":397,"e":3},
      {"s":"3K","x":-243,"y":400,"e":3},{"s":"3K","x":-240,"y":404,"e":3},{"s":"3K","x":-237,"y":401,"e":3},{"s":"3K","x":-234,"y":400,"e":3},
      {"s":"3K","x":-231,"y":401,"e":3},{"s":"3K","x":-228,"y":396,"e":3},{"s":"3K","x":-225,"y":402,"e":3},{"s":"3K","x":-222,"y":409,"e":3},
      {"s":"3K","x":-219,"y":413,"e":3},{"s":"3K","x":-216,"y":416,"e":3},{"s":"3K","x":-213,"y":413,"e":3},{"s":"3K","x":-210,"y":403,"e":3},
      {"s":"3K","x":-207,"y":399,"e":3},{"s":"3K","x":-204,"y":391,"e":3},{"s":"3K","x":-201,"y":388,"e":3},{"s":"3K","x":-198,"y":383,"e":3},
      {"s":"3K","x":-195,"y":382,"e":3},{"s":"3K","x":-192,"y":377,"e":2},{"s":"3K","x":-189,"y":379,"e":2},{"s":"3K","x":-186,"y":376,"e":2},
      {"s":"3K","x":-183,"y":375,"e":2},{"s":"3K","x":-180,"y":377,"e":2},{"s":"3K","x":-177,"y":374,"e":2},{"s":"3K","x":-174,"y":376,"e":2},
      {"s":"3K","x":-171,"y":375,"e":2},{"s":"3K","x":-168,"y":380,"e":3},{"s":"3K","x":-165,"y":376,"e":2},

      {"s":"4N","x":-244,"y":255.5,"e":9},{"s":"4N","x":-241,"y":248.5,"e":9},{"s":"4N","x":-238,"y":241.5,"e":9},{"s":"4N","x":-235,"y":254.5,"e":9},
      {"s":"4N","x":-232,"y":244.5,"e":9},{"s":"4N","x":-229,"y":252.5,"e":9},{"s":"4N","x":-226,"y":261.5,"e":9},{"s":"4N","x":-223,"y":230.5,"e":10},
      {"s":"4N","x":-220,"y":247.5,"e":9},{"s":"4N","x":-217,"y":251.5,"e":9},{"s":"4N","x":-214,"y":256.5,"e":9},{"s":"4N","x":-211,"y":248.5,"e":9},
      {"s":"4N","x":-208,"y":259.5,"e":9},{"s":"4N","x":-205,"y":254.5,"e":9},{"s":"4N","x":-202,"y":263.5,"e":9},{"s":"4N","x":-199,"y":265.5,"e":9},
      {"s":"4N","x":-196,"y":273.5,"e":9},{"s":"4N","x":-193,"y":290.5,"e":10},{"s":"4N","x":-190,"y":280.5,"e":9},{"s":"4N","x":-187,"y":286.5,"e":10},
      {"s":"4N","x":-184,"y":300.5,"e":10},{"s":"4N","x":-181,"y":308.5,"e":10},{"s":"4N","x":-178,"y":311.5,"e":10},{"s":"4N","x":-175,"y":310.5,"e":10},
      {"s":"4N","x":-172,"y":302.5,"e":10},{"s":"4N","x":-169,"y":294.5,"e":9},{"s":"4N","x":-166,"y":297.5,"e":10},{"s":"4N","x":-163,"y":303.5,"e":10},
      {"s":"4N","x":-160,"y":313.5,"e":10},{"s":"4N","x":-157,"y":320.5,"e":11},{"s":"4N","x":-154,"y":302.5,"e":10},{"s":"4N","x":-151,"y":286.5,"e":9},
      {"s":"4N","x":-148,"y":280.5,"e":9},{"s":"4N","x":-145,"y":275.5,"e":9},{"s":"4N","x":-142,"y":266.5,"e":9},{"s":"4N","x":-139,"y":270.5,"e":9},
      {"s":"4N","x":-136,"y":262.5,"e":9},{"s":"4N","x":-133,"y":253.5,"e":9},{"s":"4N","x":-130,"y":258.5,"e":9},{"s":"4N","x":-127,"y":252.5,"e":9},
      {"s":"4N","x":-124,"y":257.5,"e":9},{"s":"4N","x":-121,"y":246.5,"e":9},{"s":"4N","x":-118,"y":238.5,"e":9},{"s":"4N","x":-115,"y":253.5,"e":9},
      {"s":"4N","x":-112,"y":256.5,"e":9},{"s":"4N","x":-109,"y":244.5,"e":9},{"s":"4N","x":-106,"y":251.5,"e":9},{"s":"4N","x":-103,"y":248.5,"e":9},
      {"s":"4N","x":-100,"y":260.5,"e":9},{"s":"4N","x":-97,"y":247.5,"e":9},

      {"s":"4K","x":-244,"y":197,"e":2},{"s":"4K","x":-241,"y":195,"e":2},{"s":"4K","x":-238,"y":192,"e":2},{"s":"4K","x":-235,"y":194,"e":2},
      {"s":"4K","x":-232,"y":190,"e":2},{"s":"4K","x":-229,"y":195,"e":2},{"s":"4K","x":-226,"y":209,"e":4},{"s":"4K","x":-223,"y":196,"e":2},
      {"s":"4K","x":-220,"y":198,"e":2},{"s":"4K","x":-217,"y":194,"e":2},{"s":"4K","x":-214,"y":197,"e":2},{"s":"4K","x":-211,"y":199,"e":2},
      {"s":"4K","x":-208,"y":196,"e":2},{"s":"4K","x":-205,"y":198,"e":2},{"s":"4K","x":-202,"y":200,"e":2},{"s":"4K","x":-199,"y":201,"e":2},
      {"s":"4K","x":-196,"y":203,"e":3},{"s":"4K","x":-193,"y":205,"e":3},{"s":"4K","x":-190,"y":207,"e":3},{"s":"4K","x":-187,"y":211,"e":3},
      {"s":"4K","x":-184,"y":229,"e":4},{"s":"4K","x":-181,"y":218,"e":3},{"s":"4K","x":-178,"y":223,"e":3},{"s":"4K","x":-175,"y":224,"e":3},
      {"s":"4K","x":-172,"y":222,"e":3},{"s":"4K","x":-169,"y":221,"e":3},{"s":"4K","x":-166,"y":225,"e":3},{"s":"4K","x":-163,"y":229,"e":3},
      {"s":"4K","x":-160,"y":234,"e":3},{"s":"4K","x":-157,"y":237,"e":3},{"s":"4K","x":-154,"y":233,"e":3},{"s":"4K","x":-151,"y":224,"e":3},
      {"s":"4K","x":-148,"y":219,"e":3},{"s":"4K","x":-145,"y":212,"e":3},{"s":"4K","x":-142,"y":209,"e":3},{"s":"4K","x":-139,"y":203,"e":3},
      {"s":"4K","x":-136,"y":200,"e":2},{"s":"4K","x":-133,"y":204,"e":3},{"s":"4K","x":-130,"y":198,"e":2},{"s":"4K","x":-127,"y":201,"e":2},
      {"s":"4K","x":-124,"y":197,"e":2},{"s":"4K","x":-121,"y":199,"e":2},{"s":"4K","x":-118,"y":195,"e":2},{"s":"4K","x":-115,"y":198,"e":2},
      {"s":"4K","x":-112,"y":196,"e":2},{"s":"4K","x":-109,"y":199,"e":2},{"s":"4K","x":-106,"y":195,"e":2},{"s":"4K","x":-103,"y":197,"e":2},
      {"s":"4K","x":-100,"y":200,"e":2},{"s":"4K","x":-97,"y":196,"e":2},

      {"s":"5N","x":-202,"y":71,"e":8},{"s":"5N","x":-199,"y":64,"e":8},{"s":"5N","x":-196,"y":75,"e":8},{"s":"5N","x":-193,"y":68,"e":8},
      {"s":"5N","x":-190,"y":80,"e":8},{"s":"5N","x":-187,"y":72,"e":8},{"s":"5N","x":-184,"y":89,"e":9},{"s":"5N","x":-181,"y":78,"e":8},
      {"s":"5N","x":-178,"y":77,"e":8},{"s":"5N","x":-175,"y":83,"e":8},{"s":"5N","x":-172,"y":89,"e":8},{"s":"5N","x":-169,"y":94,"e":9},
      {"s":"5N","x":-166,"y":101,"e":9},{"s":"5N","x":-163,"y":107,"e":9},{"s":"5N","x":-160,"y":114,"e":9},{"s":"5N","x":-157,"y":121,"e":9},
      {"s":"5N","x":-154,"y":125,"e":9},{"s":"5N","x":-151,"y":134,"e":10},{"s":"5N","x":-148,"y":141,"e":10},{"s":"5N","x":-145,"y":136,"e":10},
      {"s":"5N","x":-142,"y":127,"e":9},{"s":"5N","x":-139,"y":131,"e":9},{"s":"5N","x":-136,"y":125,"e":9},{"s":"5N","x":-133,"y":134,"e":10},
      {"s":"5N","x":-130,"y":139,"e":10},{"s":"5N","x":-127,"y":145,"e":10},{"s":"5N","x":-124,"y":132,"e":10},{"s":"5N","x":-121,"y":117,"e":9},
      {"s":"5N","x":-118,"y":110,"e":9},{"s":"5N","x":-115,"y":100,"e":9},{"s":"5N","x":-112,"y":96,"e":9},{"s":"5N","x":-109,"y":91,"e":8},
      {"s":"5N","x":-106,"y":86,"e":8},{"s":"5N","x":-103,"y":82,"e":8},{"s":"5N","x":-100,"y":85,"e":8},{"s":"5N","x":-97,"y":72,"e":8},
      {"s":"5N","x":-94,"y":80,"e":8},{"s":"5N","x":-91,"y":66,"e":8},{"s":"5N","x":-88,"y":81,"e":8},{"s":"5N","x":-85,"y":78,"e":8},
      {"s":"5N","x":-82,"y":83,"e":8},{"s":"5N","x":-79,"y":75,"e":8},{"s":"5N","x":-76,"y":82,"e":8},{"s":"5N","x":-73,"y":77,"e":8},
      {"s":"5N","x":-70,"y":84,"e":8},{"s":"5N","x":-67,"y":74,"e":8},{"s":"5N","x":-64,"y":81,"e":8},{"s":"5N","x":-61,"y":78,"e":8},

      {"s":"5K","x":-202,"y":12,"e":2},{"s":"5K","x":-199,"y":20,"e":2},{"s":"5K","x":-196,"y":15,"e":2},{"s":"5K","x":-193,"y":18,"e":2},
      {"s":"5K","x":-190,"y":19,"e":2},{"s":"5K","x":-187,"y":16,"e":2},{"s":"5K","x":-184,"y":21,"e":2},{"s":"5K","x":-181,"y":20,"e":2},
      {"s":"5K","x":-178,"y":17,"e":2},{"s":"5K","x":-175,"y":21,"e":2},{"s":"5K","x":-172,"y":23,"e":2},{"s":"5K","x":-169,"y":24,"e":3},
      {"s":"5K","x":-166,"y":29,"e":3},{"s":"5K","x":-163,"y":28,"e":3},{"s":"5K","x":-160,"y":32,"e":3},{"s":"5K","x":-157,"y":36,"e":3},
      {"s":"5K","x":-154,"y":40,"e":3},{"s":"5K","x":-151,"y":44,"e":3},{"s":"5K","x":-148,"y":47,"e":3},{"s":"5K","x":-145,"y":45,"e":3},
      {"s":"5K","x":-142,"y":42,"e":3},{"s":"5K","x":-139,"y":41,"e":3},{"s":"5K","x":-136,"y":43,"e":3},{"s":"5K","x":-133,"y":46,"e":3},
      {"s":"5K","x":-130,"y":51,"e":3},{"s":"5K","x":-127,"y":55,"e":3},{"s":"5K","x":-124,"y":48,"e":3},{"s":"5K","x":-121,"y":41,"e":3},
      {"s":"5K","x":-118,"y":30,"e":3},{"s":"5K","x":-115,"y":31,"e":3},{"s":"5K","x":-112,"y":27,"e":3},{"s":"5K","x":-109,"y":23,"e":2},
      {"s":"5K","x":-106,"y":26,"e":3},{"s":"5K","x":-103,"y":21,"e":2},{"s":"5K","x":-100,"y":25,"e":3},{"s":"5K","x":-97,"y":20,"e":2},
      {"s":"5K","x":-94,"y":22,"e":2},{"s":"5K","x":-91,"y":18,"e":2},{"s":"5K","x":-88,"y":20,"e":2},{"s":"5K","x":-85,"y":17,"e":2},
      {"s":"5K","x":-82,"y":19,"e":2},{"s":"5K","x":-79,"y":18,"e":2},{"s":"5K","x":-76,"y":20,"e":2},{"s":"5K","x":-73,"y":17,"e":2},
      {"s":"5K","x":-70,"y":19,"e":2},{"s":"5K","x":-67,"y":18,"e":2},{"s":"5K","x":-64,"y":19,"e":2},{"s":"5K","x":-61,"y":18,"e":2}
    ]
  },
  "layer": [
    {
      "data": {"name": "seps"},
      "mark": {"type": "rule", "color": "#222", "strokeWidth": 1.5},
      "encoding": {
        "y": {"field": "y", "type": "quantitative", "scale": {"domain": [0, 864.5], "nice": false, "zero": false}, "axis": null}
      }
    },
    {
      "data": {"name": "fit"},
      "mark": {"type": "area", "color": "#0000ff", "opacity": 0.5, "interpolate": "monotone"},
      "encoding": {
        "x": {"field": "x", "type": "quantitative", "scale": {"domain": [-448.6, -47.2], "nice": false, "zero": false}, "axis": {"values": [-400, -300, -200, -100]}, "title": "detuning [kHz]"},
        "y": {"field": "b", "type": "quantitative", "scale": {"domain": [0, 864.5], "nice": false, "zero": false}, "axis": null},
        "y2": {"field": "base"},
        "detail": {"field": "s"}
      }
    },
    {
      "data": {"name": "fit"},
      "mark": {"type": "area", "color": "#ff0000", "opacity": 0.5, "interpolate": "monotone"},
      "encoding": {
        "x": {"field": "x", "type": "quantitative", "scale": {"domain": [-448.6, -47.2], "nice": false, "zero": false}, "axis": {"values": [-400, -300, -200, -100]}, "title": "detuning [kHz]"},
        "y": {"field": "r", "type": "quantitative", "scale": {"domain": [0, 864.5], "nice": false, "zero": false}, "axis": null},
        "y2": {"field": "base"},
        "detail": {"field": "s"}
      }
    },
    {
      "data": {"name": "fit"},
      "mark": {"type": "line", "color": "#0000ff", "strokeWidth": 1.5, "interpolate": "monotone"},
      "encoding": {
        "x": {"field": "x", "type": "quantitative", "scale": {"domain": [-448.6, -47.2], "nice": false, "zero": false}, "axis": {"values": [-400, -300, -200, -100]}, "title": "detuning [kHz]"},
        "y": {"field": "b", "type": "quantitative", "scale": {"domain": [0, 864.5], "nice": false, "zero": false}, "axis": null},
        "detail": {"field": "s"}
      }
    },
    {
      "data": {"name": "fit"},
      "mark": {"type": "line", "color": "#ff0000", "strokeWidth": 1.5, "interpolate": "monotone"},
      "encoding": {
        "x": {"field": "x", "type": "quantitative", "scale": {"domain": [-448.6, -47.2], "nice": false, "zero": false}, "axis": {"values": [-400, -300, -200, -100]}, "title": "detuning [kHz]"},
        "y": {"field": "r", "type": "quantitative", "scale": {"domain": [0, 864.5], "nice": false, "zero": false}, "axis": null},
        "detail": {"field": "s"}
      }
    },
    {
      "data": {"name": "fit"},
      "mark": {"type": "line", "color": "#333333", "opacity": 0.6, "strokeWidth": 3.5, "interpolate": "monotone"},
      "encoding": {
        "x": {"field": "x", "type": "quantitative", "scale": {"domain": [-448.6, -47.2], "nice": false, "zero": false}, "axis": {"values": [-400, -300, -200, -100]}, "title": "detuning [kHz]"},
        "y": {"field": "t", "type": "quantitative", "scale": {"domain": [0, 864.5], "nice": false, "zero": false}, "axis": null},
        "detail": {"field": "s"}
      }
    },
    {
      "data": {"name": "pts"},
      "mark": {"type": "errorbar", "ticks": false, "thickness": 1.5, "color": "#555555", "opacity": 0.65},
      "encoding": {
        "x": {"field": "x", "type": "quantitative", "scale": {"domain": [-448.6, -47.2], "nice": false, "zero": false}, "axis": {"values": [-400, -300, -200, -100]}, "title": "detuning [kHz]"},
        "y": {"field": "y", "type": "quantitative", "scale": {"domain": [0, 864.5], "nice": false, "zero": false}, "axis": null},
        "yError": {"field": "e"}
      }
    },
    {
      "data": {"name": "pts"},
      "mark": {"type": "circle", "size": 34, "color": "#111111", "opacity": 0.7},
      "encoding": {
        "x": {"field": "x", "type": "quantitative", "scale": {"domain": [-448.6, -47.2], "nice": false, "zero": false}, "axis": {"values": [-400, -300, -200, -100]}, "title": "detuning [kHz]"},
        "y": {"field": "y", "type": "quantitative", "scale": {"domain": [0, 864.5], "nice": false, "zero": false}, "axis": null}
      }
    },
    {
      "data": {"name": "fields"},
      "mark": {"type": "text", "align": "right", "baseline": "alphabetic", "fontSize": 22, "color": "#000"},
      "encoding": {
        "x": {"field": "x", "type": "quantitative", "scale": {"domain": [-448.6, -47.2], "nice": false, "zero": false}, "axis": {"values": [-400, -300, -200, -100]}, "title": "detuning [kHz]"},
        "y": {"field": "y", "type": "quantitative", "scale": {"domain": [0, 864.5], "nice": false, "zero": false}, "axis": null},
        "text": {"field": "t"}
      }
    },
    {
      "data": {"name": "species"},
      "mark": {"type": "text", "align": "left", "baseline": "alphabetic", "fontSize": 22, "dx": 0.5, "color": "#000"},
      "encoding": {
        "x": {"field": "x", "type": "quantitative", "scale": {"domain": [-448.6, -47.2], "nice": false, "zero": false}, "axis": {"values": [-400, -300, -200, -100]}, "title": "detuning [kHz]"},
        "y": {"field": "y", "type": "quantitative", "scale": {"domain": [0, 864.5], "nice": false, "zero": false}, "axis": null},
        "text": {"field": "t"}
      }
    },
    {
      "data": {"name": "species"},
      "mark": {"type": "text", "align": "right", "baseline": "alphabetic", "fontSize": 15, "dx": -0.5, "color": "#000"},
      "encoding": {
        "x": {"field": "x", "type": "quantitative", "scale": {"domain": [-448.6, -47.2], "nice": false, "zero": false}, "axis": {"values": [-400, -300, -200, -100]}, "title": "detuning [kHz]"},
        "y": {"field": "ys", "type": "quantitative", "scale": {"domain": [0, 864.5], "nice": false, "zero": false}, "axis": null},
        "text": {"field": "m"}
      }
    }
  ]
}
